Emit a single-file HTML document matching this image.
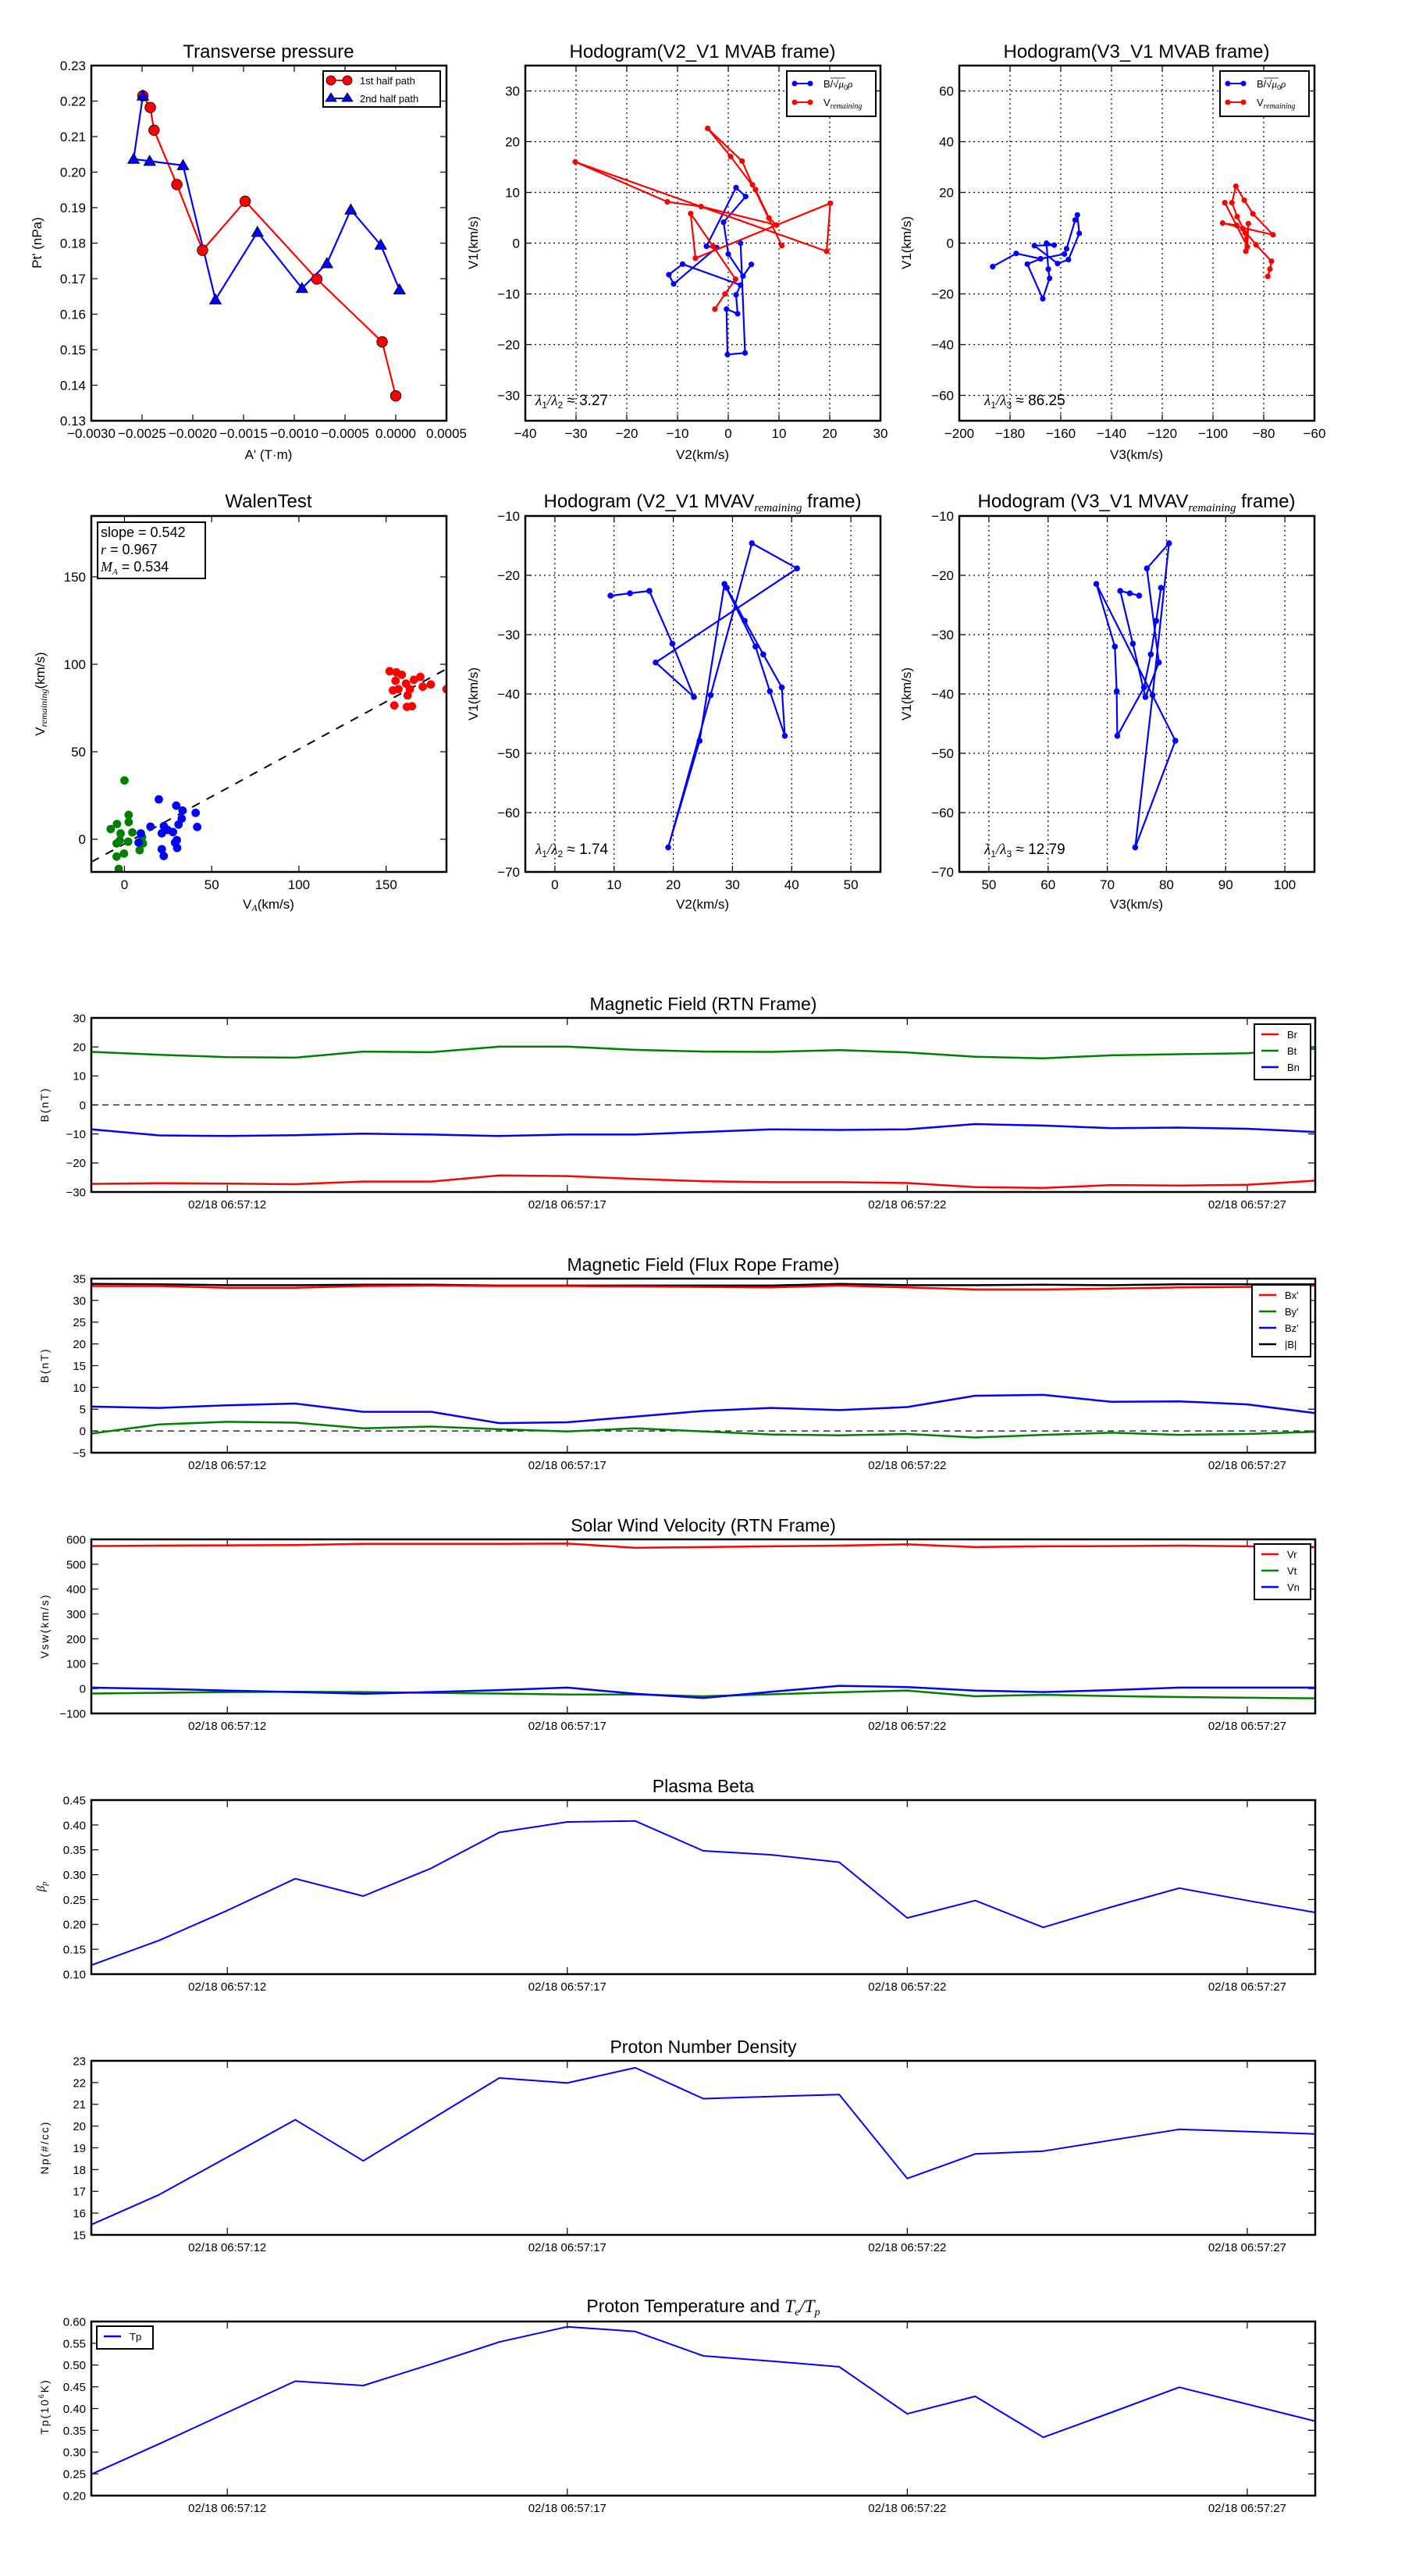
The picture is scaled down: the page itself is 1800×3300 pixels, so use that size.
<!DOCTYPE html>
<html><head><meta charset="utf-8"><title>Flux rope analysis</title>
<style>
html,body{margin:0;padding:0;background:#fff;}
svg{display:block;font-family:"Liberation Sans","DejaVu Sans",sans-serif;}
</style></head>
<body>
<svg id="fig" xmlns="http://www.w3.org/2000/svg" width="1800" height="3300" viewBox="0 0 1800 3300">
<rect x="0" y="0" width="1800" height="3300" fill="#fff"/>
</svg>
<script>
// ---------------- DATA ----------------
// Transverse pressure
const ptA1 = [-0.002492,-0.002419,-0.002382,-0.002157,-0.001904,-0.001484,-0.000778,-0.000134,0.0];
const ptP1 = [0.2215,0.2182,0.2118,0.1965,0.1780,0.1918,0.1699,0.1522,0.1370];
const ptA2 = [-0.002492,-0.002583,-0.002425,-0.002096,-0.001777,-0.001363,-0.000924,-0.000678,-0.000443,-0.000148,0.000037];
const ptP2 = [0.2215,0.2037,0.2031,0.2019,0.1641,0.1831,0.1673,0.1743,0.1894,0.1795,0.1669];
// Hodogram V2_V1 MVAB
const h1bV2 = [2.43,3.31,-0.16,-0.34,1.84,1.54,2.43,-9.0,-11.71,-10.77,-2.29,-4.29,1.54,3.43,-0.93,0.01,2.90,4.55];
const h1bV1 = [0,-21.63,-21.96,-12.99,-13.92,-10.18,-8.26,-4.13,-6.22,-8.04,-0.88,-0.61,10.95,9.19,4.13,-2.15,-6.49,-4.18];
const h1rV2 = [-2.64,-0.64,1.43,-3.0,-7.41,-6.47,20.11,19.40,-30.16,-12.01,-5.35,9.50,8.03,5.37,0.48,-4.06,2.72,4.78,10.56];
const h1rV1 = [-12.99,-10.02,-7.10,-0.61,5.83,-2.97,7.87,-1.60,16.02,8.15,7.21,3.58,4.95,10.57,17.06,22.62,16.18,11.50,-0.50];
// Hodogram V3_V1 MVAB
const h2bV3 = [-186.84,-177.58,-167.95,-158.57,-157.72,-154.31,-153.45,-152.72,-156.99,-161.25,-170.39,-162.59,-165.64,-164.91,-164.42,-167.10,-173.19,-167.95];
const h2bV1 = [-9.24,-4.07,-6.16,-4.29,-2.20,9.13,11.12,3.85,-6.49,-8.03,-0.99,-0.77,0,-10.24,-13.87,-21.90,-8.25,-6.16];
const h2rV3 = [-78.40,-77.55,-76.93,-83.03,-88.27,-90.70,-96.19,-76.33,-84.25,-87.66,-90.95,-92.53,-90.46,-87.29,-87.05,-86.07,-86.44,-95.33];
const h2rV1 = [-13.10,-10.24,-7.15,-0.66,5.72,7.04,7.92,3.30,11.56,16.95,22.45,15.96,10.46,4.07,-3.19,7.70,-1.43,15.96];
// Walen test
const wgX = [0,2.4,2.4,-4.3,-7.9,-2.2,4.5,-4.5,-2.7,2.1,10.6,8.7,-0.3,-4.5,-3.3,10.1];
const wgY = [33.6,13.9,9.8,8.7,5.8,3.3,3.9,-2.4,-0.7,-1.4,-2.4,-6.3,-8.2,-9.9,-17.0,1.2];
const wbX = [19.7,29.7,33.3,40.8,32.8,31.0,14.9,22.6,41.7,24.7,27.8,21.4,9.4,8.1,30.0,29.0,30.2,21.4,22.5];
const wbY = [22.8,19.2,16.4,15.1,11.8,8.4,7.2,7.5,7.0,5.3,4.1,3.4,3.3,-1.9,-0.5,-1.9,-5.0,-5.7,-9.6];
const wrX = [152.0,155.9,159.0,155.4,161.4,165.9,169.6,175.6,171.0,163.6,153.9,157.1,162.3,154.7,161.9,164.8,184.6];
const wrY = [96.1,95.4,94.0,90.6,89.0,91.1,92.8,88.5,87.2,85.8,85.1,85.8,82.2,76.5,75.7,76.0,85.8];
const walenSlope = 0.542;
const walenIntercept = -2.7;
// Hodogram MVAV remaining
const h3V2 = [9.39,12.68,15.96,19.85,23.48,17.02,40.91,33.28,26.31,19.14,24.44,28.64,33.89,36.31,38.84,38.33,35.20,32.07,29.04];
const h3V1 = [-23.43,-23.03,-22.63,-31.52,-40.51,-34.70,-18.84,-14.60,-40.20,-65.86,-47.88,-21.46,-32.02,-39.55,-47.07,-38.89,-33.33,-27.68,-22.12];
const h4V3 = [75.38,73.81,72.19,74.32,76.44,78.72,76.69,80.43,77.65,74.72,81.50,68.15,71.28,71.59,71.69,76.2,77.35,78.26,79.07];
// Time series (1 s cadence, 06:57:10 .. 06:57:28)
const timeTicks = [2,7,12,17];
const timeTickLabels = ['02/18 06:57:12','02/18 06:57:17','02/18 06:57:22','02/18 06:57:27'];
const Br = [-27.2,-27.0,-27.1,-27.3,-26.4,-26.4,-24.3,-24.5,-25.5,-26.3,-26.6,-26.6,-26.9,-28.3,-28.6,-27.6,-27.8,-27.5,-26.1];
const Bt = [18.3,17.3,16.5,16.3,18.4,18.2,20.1,20.1,19.0,18.4,18.3,18.9,18.1,16.6,16.1,17.1,17.5,17.8,19.4];
const Bn = [-8.4,-10.5,-10.7,-10.4,-9.9,-10.2,-10.7,-10.2,-10.2,-9.3,-8.4,-8.6,-8.4,-6.6,-7.1,-8.0,-7.8,-8.2,-9.3];
const Bx = [33.3,33.3,32.9,32.9,33.3,33.4,33.3,33.3,33.2,33.1,33.0,33.4,33.0,32.5,32.5,32.7,33.0,33.1,33.4];
const By = [-0.6,1.5,2.1,1.9,0.6,1.0,0.4,-0.1,0.6,-0.1,-0.8,-1.0,-0.7,-1.5,-0.9,-0.4,-0.9,-0.7,-0.2];
const Bz = [5.6,5.3,5.9,6.3,4.4,4.4,1.8,2.0,3.3,4.6,5.3,4.8,5.5,8.1,8.3,6.7,6.8,6.1,4.1];
const Bmag = [33.8,33.7,33.5,33.5,33.6,33.6,33.4,33.4,33.4,33.4,33.4,33.8,33.5,33.5,33.6,33.5,33.7,33.7,33.7];
const Vr = [573,575,576,577,582,582,582,583,566,569,572,575,580,569,572,573,575,572,569];
const Vt = [-20,-17,-14,-13,-14,-17,-20,-24,-24,-31,-23,-15,-8,-31,-25,-30,-34,-37,-39];
const Vn = [4,-1,-8,-14,-21,-14,-6,4,-21,-38,-13,11,6,-8,-14,-6,4,4,4];
const beta = [0.118,0.168,0.228,0.292,0.257,0.313,0.385,0.406,0.408,0.348,0.340,0.325,0.213,0.248,0.194,0.235,0.273,0.248,0.224];
const Np = [15.47,16.85,18.57,20.29,18.40,20.31,22.21,21.98,22.68,21.26,21.36,21.45,17.59,18.72,18.85,19.35,19.85,19.75,19.64];
const Tp = [0.249,0.319,0.391,0.463,0.453,0.502,0.553,0.588,0.577,0.521,0.509,0.496,0.388,0.428,0.334,0.391,0.449,0.410,0.371];

// ---------------- HELPERS ----------------
const NS='http://www.w3.org/2000/svg';
const svg=document.getElementById('fig');
let clipN=0;
function mk(tag, attrs, parent){const e=document.createElementNS(NS,tag);for(const k in attrs)e.setAttribute(k,attrs[k]);(parent||svg).appendChild(e);return e;}
function txt(parent,x,y,s,size,anchor,extra){const t=mk('text',Object.assign({x:x,y:y,'font-size':size,'text-anchor':anchor||'middle',fill:'#000'},extra||{}),parent);t.textContent=s;return t;}
const mn=v=>String(v).replace('-','\u2212');

function axes(o){
  const g=mk('g',{});
  
  
  const sx=v=>o.x+(v-o.xmin)/(o.xmax-o.xmin)*o.w;
  const sy=v=>o.y+o.h-(v-o.ymin)/(o.ymax-o.ymin)*o.h;
  const tl=o.tl||8, fs=o.fs||17;
  if(o.grid){
    o.xt.forEach(v=>{const l=mk('line',{x1:sx(v),x2:sx(v),y1:o.y,y2:o.y+o.h,stroke:'#000','stroke-width':1.2,'stroke-dasharray':'2,4'},g);
      
      });
    o.yt.forEach(v=>{const l=mk('line',{x1:o.x,x2:o.x+o.w,y1:sy(v),y2:sy(v),stroke:'#000','stroke-width':1.2,'stroke-dasharray':'2,4'},g);
      
      });
  }
  const xg=mk('g',{},g);
  
  
  o.xt.forEach((v,i)=>{
    mk('line',{x1:sx(v),x2:sx(v),y1:o.y+o.h,y2:o.y+o.h-tl,stroke:'#000','stroke-width':1.2},xg);
    mk('line',{x1:sx(v),x2:sx(v),y1:o.y,y2:o.y+tl,stroke:'#000','stroke-width':1.2},xg);
    const t=txt(xg,sx(v),o.y+o.h+(o.xtOff||22),o.xtl[i],fs,'middle');
    
    
  });
  const yg=mk('g',{},g);
  
  
  o.yt.forEach((v,i)=>{
    mk('line',{x1:o.x,x2:o.x+tl,y1:sy(v),y2:sy(v),stroke:'#000','stroke-width':1.2},yg);
    mk('line',{x1:o.x+o.w,x2:o.x+o.w-tl,y1:sy(v),y2:sy(v),stroke:'#000','stroke-width':1.2},yg);
    const t=txt(yg,o.x-7,sy(v)+fs*0.36,o.ytl[i],fs,'end');
    
    
  });
  const id='clip'+(clipN++);
  const cp=mk('clipPath',{id:id},g);
  mk('rect',{x:o.x,y:o.y,width:o.w,height:o.h},cp);
  const plot=mk('g',{'clip-path':'url(#'+id+')'},g);
  
  
  return {g,plot,sx,sy,o,frame:()=>{const f=mk('rect',{x:o.x,y:o.y,width:o.w,height:o.h,fill:'none',stroke:'#000','stroke-width':o.fw||2.5},g);
    
    }};
}
function pathD(ax,X,Y){return X.map((v,i)=>(i?'L':'M')+ax.sx(v).toFixed(1)+','+ax.sy(Y[i]).toFixed(1)).join(' ');}
function series(ax,X,Y,color,lw){return mk('path',{d:pathD(ax,X,Y),fill:'none',stroke:color,'stroke-width':lw||2.2,'stroke-linejoin':'round'},ax.plot);}
function dots(ax,X,Y,color,r,parent){const g=mk('g',{},parent||ax.plot);X.forEach((v,i)=>mk('circle',{cx:ax.sx(v),cy:ax.sy(Y[i]),r:r,fill:color,stroke:r>5.5&&!parent?'#000':'none','stroke-width':0.8},g));return g;}
function tris(ax,X,Y,color,s){const g=mk('g',{},ax.plot);X.forEach((v,i)=>{const x=ax.sx(v),y=ax.sy(Y[i]);mk('path',{d:`M${x},${y-s} L${x+s},${y+s*0.75} L${x-s},${y+s*0.75} Z`,fill:color,stroke:'#000','stroke-width':0.8},g);});return g;}
function range(a,b,s){const r=[];for(let v=a;v<=b+1e-9;v+=s)r.push(+v.toFixed(6));return r;}
function title(x,y,s,size){const t=txt(svg,x,y,s,size||24,'middle');return t;}
function ylabel(x,y,s,size,extra){const t=txt(svg,x,y,s,size||17,'middle',Object.assign({transform:`rotate(-90 ${x} ${y})`},extra||{}));return t;}

// ---------------- PANEL 1: Transverse pressure ----------------
const a1=axes({name:'transverse-pressure-chart',x:117,y:84,w:455,h:455,xmin:-0.003,xmax:0.0005,ymin:0.13,ymax:0.23,
  xt:range(-0.003,0.0005,0.0005),xtl:['\u22120.0030','\u22120.0025','\u22120.0020','\u22120.0015','\u22120.0010','\u22120.0005','0.0000','0.0005'],
  yt:range(0.13,0.23,0.01),ytl:['0.13','0.14','0.15','0.16','0.17','0.18','0.19','0.20','0.21','0.22','0.23']});
const s1a=series(a1,ptA1,ptP1,'#ff0000',2.2);


const s1b=series(a1,ptA2,ptP2,'#0000ff',2.2);


const m1a=dots(a1,ptA1,ptP1,'#ff0000',6.8);


const m1b=tris(a1,ptA2,ptP2,'#0000ff',7.5);


a1.frame();
const t1=title(344,74,'Transverse pressure');


const yl1=ylabel(53,311,"Pt' (nPa)");


const xl1=txt(svg,344,588,"A' (T\u00b7m)",17);


// legend
const lg1=mk('g',{});


mk('rect',{x:414,y:91,width:150,height:46,fill:'#fff',stroke:'#000','stroke-width':2},lg1);
mk('line',{x1:424,x2:445,y1:103,y2:103,stroke:'#ff0000','stroke-width':2},lg1);
mk('circle',{cx:424,cy:103,r:6,fill:'#ff0000',stroke:'#000','stroke-width':0.8},lg1);
mk('circle',{cx:445,cy:103,r:6,fill:'#ff0000',stroke:'#000','stroke-width':0.8},lg1);
const le1=txt(lg1,461,108,'1st half path',13,'start');


mk('line',{x1:424,x2:445,y1:126,y2:126,stroke:'#0000ff','stroke-width':2},lg1);
mk('path',{d:'M424,119 L431,130 L417,130 Z M445,119 L452,130 L438,130 Z',fill:'#0000ff',stroke:'#000','stroke-width':0.8},lg1);
const le2=txt(lg1,461,131,'2nd half path',13,'start');



// legend for hodograms
function hodoLegend(x,name){
  const g=mk('g',{});
  
  
  mk('rect',{x:x,y:91,width:114,height:58,fill:'#fff',stroke:'#000','stroke-width':2},g);
  mk('line',{x1:x+10,x2:x+30,y1:107,y2:107,stroke:'#0000ff','stroke-width':2},g);
  mk('circle',{cx:x+10,cy:107,r:3.5,fill:'#0000ff'},g);mk('circle',{cx:x+30,cy:107,r:3.5,fill:'#0000ff'},g);
  const t=mk('text',{x:x+47,y:112,'font-size':13},g);
  t.innerHTML='B/\u221a<tspan font-family="Liberation Serif" font-style="italic">\u03bc</tspan><tspan font-size="9" dy="3">0</tspan><tspan font-family="Liberation Serif" font-style="italic" dy="-3">\u03c1</tspan>';
  
  
  mk('line',{x1:x+56,x2:x+75,y1:100,y2:100,stroke:'#000','stroke-width':0.8},g);
  mk('line',{x1:x+10,x2:x+30,y1:131,y2:131,stroke:'#ff0000','stroke-width':2},g);
  mk('circle',{cx:x+10,cy:131,r:3.5,fill:'#ff0000'},g);mk('circle',{cx:x+30,cy:131,r:3.5,fill:'#ff0000'},g);
  const t2=mk('text',{x:x+47,y:136,'font-size':13},g);
  t2.innerHTML='V<tspan font-family="Liberation Serif" font-style="italic" font-size="10" dy="3">remaining</tspan>';
  
  
}
function lam(x,y,sub,val,name){
  const t=mk('text',{x:x,y:y,'font-size':19});
  t.innerHTML='<tspan font-family="Liberation Serif" font-style="italic">\u03bb</tspan><tspan font-size="12" dy="4">1</tspan><tspan dy="-4" font-family="Liberation Serif" font-style="italic">/\u03bb</tspan><tspan font-size="12" dy="4">'+sub+'</tspan><tspan dy="-4"> \u2248 '+val+'</tspan>';
  
  
}

// ---------------- PANEL 2 ----------------
const a2=axes({name:'hodogram-v2-v1-mvab-chart',x:673,y:84,w:455,h:455,xmin:-40,xmax:30,ymin:-35,ymax:35,grid:true,
  xt:range(-40,30,10),xtl:['\u221240','\u221230','\u221220','\u221210','0','10','20','30'],
  yt:range(-30,30,10),ytl:['\u221230','\u221220','\u221210','0','10','20','30']});
const s2b=series(a2,h1bV2,h1bV1,'#0000ff',2.2);


const m2b=dots(a2,h1bV2,h1bV1,'#0000ff',3.6);


const s2r=series(a2,h1rV2,h1rV1,'#ff0000',2.2);


const m2r=dots(a2,h1rV2,h1rV1,'#ff0000',3.6);


a2.frame();
const t2=title(900,74,'Hodogram(V2_V1 MVAB frame)');


const yl2=ylabel(612,311,'V1(km/s)');


const xl2=txt(svg,900,588,'V2(km/s)',17);


hodoLegend(1008,'legend-hodogram-v2-v1');
lam(686,519,'2','3.27','eigenvalue-ratio-label');

// ---------------- PANEL 3 ----------------
const a3=axes({name:'hodogram-v3-v1-mvab-chart',x:1229,y:84,w:455,h:455,xmin:-200,xmax:-60,ymin:-70,ymax:70,grid:true,
  xt:range(-200,-60,20),xtl:['\u2212200','\u2212180','\u2212160','\u2212140','\u2212120','\u2212100','\u221280','\u221260'],
  yt:range(-60,60,20),ytl:['\u221260','\u221240','\u221220','0','20','40','60']});
const s3b=series(a3,h2bV3,h2bV1,'#0000ff',2.2);


const m3b=dots(a3,h2bV3,h2bV1,'#0000ff',3.6);


const s3r=series(a3,h2rV3,h2rV1,'#ff0000',2.2);


const m3r=dots(a3,h2rV3,h2rV1,'#ff0000',3.6);


a3.frame();
const t3=title(1456,74,'Hodogram(V3_V1 MVAB frame)');


const yl3=ylabel(1167,311,'V1(km/s)');


const xl3=txt(svg,1456,588,'V3(km/s)',17);


hodoLegend(1563,'legend-hodogram-v3-v1');
lam(1261,519,'3','86.25','eigenvalue-ratio-label');

// ---------------- PANEL 4: Walen test ----------------
const a4=axes({name:'walen-test-chart',x:117,y:661,w:455,h:456,xmin:-19,xmax:184.6,ymin:-18.7,ymax:184.8,
  xt:[0,50,100,150],xtl:['0','50','100','150'],yt:[0,50,100,150],ytl:['0','50','100','150']});
const wl=mk('line',{x1:a4.sx(-19),y1:a4.sy(walenSlope*-19+walenIntercept),x2:a4.sx(184.6),y2:a4.sy(walenSlope*184.6+walenIntercept),stroke:'#000','stroke-width':2,'stroke-dasharray':'11,10'},a4.plot);


const wg=dots(a4,wgX,wgY,'#008000',5.4);


const wb=dots(a4,wbX,wbY,'#0000ff',5.4);


const wr=dots(a4,wrX,wrY,'#ff0000',5.4);


[wg,wb,wr].forEach(g=>g.querySelectorAll('circle').forEach(c=>c.setAttribute('stroke','none')));
a4.frame();
const t4=title(344,650,'WalenTest');


const yl4=mk('text',{x:57,y:889,'font-size':17,'text-anchor':'middle',transform:'rotate(-90 57 889)'});
yl4.innerHTML='V<tspan font-family="Liberation Serif" font-style="italic" font-size="12" dy="3">remaining</tspan><tspan dy="-3">(km/s)</tspan>';


const xl4=mk('text',{x:344,y:1164,'font-size':17,'text-anchor':'middle'});
xl4.innerHTML='V<tspan font-family="Liberation Serif" font-style="italic" font-size="12" dy="3">A</tspan><tspan dy="-3">(km/s)</tspan>';


const wbox=mk('g',{});


mk('rect',{x:125,y:669,width:138,height:72,fill:'#fff',stroke:'#000','stroke-width':2},wbox);
txt(wbox,129,688,'slope = 0.542',18,'start');
const wr2=mk('text',{x:129,y:710,'font-size':18},wbox);
wr2.innerHTML='<tspan font-family="Liberation Serif" font-style="italic">r</tspan> = 0.967';
const wm=mk('text',{x:129,y:732,'font-size':18},wbox);
wm.innerHTML='<tspan font-family="Liberation Serif" font-style="italic">M</tspan><tspan font-family="Liberation Serif" font-style="italic" font-size="11" dy="4">A</tspan><tspan dy="-4"> = 0.534</tspan>';

// ---------------- PANEL 5 ----------------
const a5=axes({name:'hodogram-v2-v1-mvav-chart',x:673,y:661,w:455,h:456,xmin:-5,xmax:55,ymin:-70,ymax:-10,grid:true,
  xt:range(0,50,10),xtl:['0','10','20','30','40','50'],
  yt:range(-70,-10,10),ytl:['\u221270','\u221260','\u221250','\u221240','\u221230','\u221220','\u221210']});
const s5=series(a5,h3V2,h3V1,'#0000ff',2.2);


const m5=dots(a5,h3V2,h3V1,'#0000ff',3.8);


a5.frame();
const t5=mk('text',{x:900,y:650,'font-size':24,'text-anchor':'middle'});
t5.innerHTML='Hodogram (V2_V1 MVAV<tspan font-family="Liberation Serif" font-style="italic" font-size="15" dy="5">remaining</tspan><tspan dy="-5"> frame)</tspan>';


const yl5=ylabel(612,889,'V1(km/s)');


const xl5=txt(svg,900,1164,'V2(km/s)',17);


lam(686,1094,'2','1.74','eigenvalue-ratio-label');

// ---------------- PANEL 6 ----------------
const a6=axes({name:'hodogram-v3-v1-mvav-chart',x:1229,y:661,w:455,h:456,xmin:45,xmax:105,ymin:-70,ymax:-10,grid:true,
  xt:range(50,100,10),xtl:['50','60','70','80','90','100'],
  yt:range(-70,-10,10),ytl:['\u221270','\u221260','\u221250','\u221240','\u221230','\u221220','\u221210']});
const s6=series(a6,h4V3,h3V1,'#0000ff',2.2);


const m6=dots(a6,h4V3,h3V1,'#0000ff',3.8);


a6.frame();
const t6=mk('text',{x:1456,y:650,'font-size':24,'text-anchor':'middle'});
t6.innerHTML='Hodogram (V3_V1 MVAV<tspan font-family="Liberation Serif" font-style="italic" font-size="15" dy="5">remaining</tspan><tspan dy="-5"> frame)</tspan>';


const yl6=ylabel(1167,889,'V1(km/s)');


const xl6=txt(svg,1456,1164,'V3(km/s)',17);


lam(1261,1094,'3','12.79','eigenvalue-ratio-label');

// ---------------- TIME SERIES ----------------
const idx=Br.map((_,i)=>i);
function tsAxes(i,name,ymin,ymax,yt,ytl){
  return axes({name:name,x:117,y:1304+334*i,w:1568,h:223,xmin:0,xmax:18,ymin:ymin,ymax:ymax,
    xt:timeTicks,xtl:timeTickLabels,yt:yt,ytl:ytl,fs:15,tl:9,xtOff:21});
}
function tsLegend(x,y,w,entries,name){
  const g=mk('g',{});
  
  
  mk('rect',{x:x,y:y,width:w,height:entries.length*21+8,fill:'#fff',stroke:'#000','stroke-width':2},g);
  entries.forEach((e,k)=>{
    const yy=y+13+21*k;
    mk('line',{x1:x+9,x2:x+31,y1:yy,y2:yy,stroke:e[1],'stroke-width':2.5},g);
    const t=txt(g,x+42,yy+5,e[0],13,'start');
    
    
  });
}
function tsTitle(i,s){const t=txt(svg,901,1304+334*i-10,s,23,'middle');return t;}
function tsYlabel(i,s){const y=1304+334*i+111;const t=txt(svg,62,y,s,14,'middle',{transform:`rotate(-90 62 ${y})`,'letter-spacing':'2'});return t;}

// Magnetic field RTN
const b1=tsAxes(0,'magnetic-field-rtn-chart',-30,30,range(-30,30,10),['\u221230','\u221220','\u221210','0','10','20','30']);
const z1=mk('line',{x1:b1.sx(0),x2:b1.sx(18),y1:b1.sy(0),y2:b1.sy(0),stroke:'#000','stroke-width':1.3,'stroke-dasharray':'8,6'},b1.plot);


const sBr=series(b1,idx,Br,'#ff0000',2.5);


const sBt=series(b1,idx,Bt,'#008000',2.5);


const sBn=series(b1,idx,Bn,'#0000ff',2.5);


b1.frame();
tsLegend(1607,1312,72,[['Br','#ff0000'],['Bt','#008000'],['Bn','#0000ff']],'legend-rtn-field');
const tt1=tsTitle(0,'Magnetic Field (RTN Frame)');


const ty1=tsYlabel(0,'B(nT)');



// Flux rope frame
const b2=tsAxes(1,'magnetic-field-flux-rope-chart',-5,35,range(-5,35,5),['\u22125','0','5','10','15','20','25','30','35']);
const z2=mk('line',{x1:b2.sx(0),x2:b2.sx(18),y1:b2.sy(0),y2:b2.sy(0),stroke:'#000','stroke-width':1.3,'stroke-dasharray':'8,6'},b2.plot);


const sB=series(b2,idx,Bmag,'#000000',2.5);


const sBx=series(b2,idx,Bx,'#ff0000',2.5);


const sBy=series(b2,idx,By,'#008000',2.5);


const sBz=series(b2,idx,Bz,'#0000ff',2.5);


b2.frame();
tsLegend(1604,1646,75,[["Bx'",'#ff0000'],["By'",'#008000'],["Bz'",'#0000ff'],['|B|','#000000']],'legend-flux-rope-field');
const tt2=tsTitle(1,'Magnetic Field (Flux Rope Frame)');


const ty2=tsYlabel(1,'B(nT)');



// Velocity
const b3=tsAxes(2,'solar-wind-velocity-chart',-100,600,range(-100,600,100),['\u2212100','0','100','200','300','400','500','600']);
const sVr=series(b3,idx,Vr,'#ff0000',2.5);


const sVt=series(b3,idx,Vt,'#008000',2.5);


const sVn=series(b3,idx,Vn,'#0000ff',2.5);


b3.frame();
tsLegend(1607,1978,72,[['Vr','#ff0000'],['Vt','#008000'],['Vn','#0000ff']],'legend-velocity');
const tt3=tsTitle(2,'Solar Wind Velocity (RTN Frame)');


const ty3=tsYlabel(2,'Vsw(km/s)');



// Plasma beta
const b4=tsAxes(3,'plasma-beta-chart',0.10,0.45,range(0.10,0.45,0.05),['0.10','0.15','0.20','0.25','0.30','0.35','0.40','0.45']);
const sBeta=series(b4,idx,beta,'#0000ff',2);


b4.frame();
const tt4=tsTitle(3,'Plasma Beta');


const ty4=mk('text',{x:57,y:2417,'font-size':15,'text-anchor':'middle',transform:'rotate(-90 57 2417)','font-family':'Liberation Serif','font-style':'italic'});
ty4.innerHTML='\u03b2<tspan font-size="10" dy="3">p</tspan>';



// Proton density
const b5=tsAxes(4,'proton-density-chart',15,23,range(15,23,1),['15','16','17','18','19','20','21','22','23']);
const sNp=series(b5,idx,Np,'#0000ff',2);


b5.frame();
const tt5=tsTitle(4,'Proton Number Density');


const ty5=tsYlabel(4,'Np(#/cc)');



// Proton temperature
const b6=tsAxes(5,'proton-temperature-chart',0.20,0.60,range(0.20,0.60,0.05),['0.20','0.25','0.30','0.35','0.40','0.45','0.50','0.55','0.60']);
const sTp=series(b6,idx,Tp,'#0000ff',2);


b6.frame();
tsLegend(124,2980,72,[['Tp','#0000ff']],'legend-tp');
const tt6=mk('text',{x:901,y:2962,'font-size':23,'text-anchor':'middle'});
tt6.innerHTML='Proton Temperature and <tspan font-family="Liberation Serif" font-style="italic">T</tspan><tspan font-family="Liberation Serif" font-style="italic" font-size="14" dy="4">e</tspan><tspan font-family="Liberation Serif" font-style="italic" dy="-4">/T</tspan><tspan font-family="Liberation Serif" font-style="italic" font-size="14" dy="4">p</tspan>';


const ty6=mk('text',{x:62,y:3083,'font-size':14,'text-anchor':'middle','letter-spacing':'2',transform:'rotate(-90 62 3083)'});
ty6.innerHTML='Tp(10<tspan font-size="9" dy="-6">6</tspan><tspan dy="6">K)</tspan>';


</script>
</body></html>
